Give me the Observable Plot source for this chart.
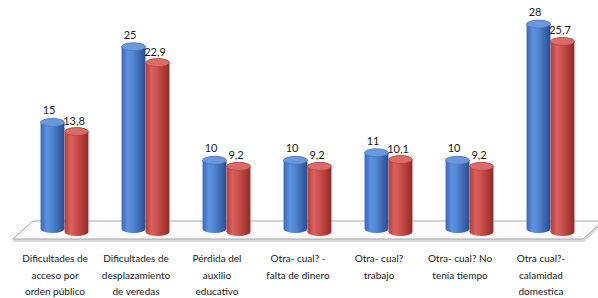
<!DOCTYPE html>
<html><head><meta charset="utf-8">
<script src="https://cdn.jsdelivr.net/npm/d3@7"></script>
<script src="https://cdn.jsdelivr.net/npm/@observablehq/plot@0.6"></script>
<style>body{margin:0;background:#fff}</style>
</head><body><div id="chart"></div>
<script>
const categories = [
  "Dificultades de\nacceso por\norden público",
  "Dificultades de\ndesplazamiento\nde veredas",
  "Pérdida del\nauxilio\neducativo",
  "Otra- cual? -\nfalta de dinero",
  "Otra- cual?\ntrabajo",
  "Otra- cual? No\ntenía tiempo",
  "Otra cual?-\ncalamidad\ndomestica"
];
const serieA = [15, 25, 10, 10, 11, 10, 28];
const serieB = [13.8, 22.9, 9.2, 9.2, 10.1, 9.2, 25.7];

const rows = categories.map((c, i) => ({cat: c, a: serieA[i], b: serieB[i]}));
const fmt = v => String(v).replace(".", ",");

const W = 598, H = 298, ML = 23, MR = 7;
const band = (W - ML - MR) / categories.length;
const bw = 24;
const blueIns = {insetLeft: band / 2 - bw, insetRight: band / 2};
const redIns = {insetLeft: band / 2, insetRight: band / 2 - bw};

function floor(index, scales, values, dims) {
  const ns = "http://www.w3.org/2000/svg";
  const y0 = scales.y(0);
  const back = y0 - 15, front = y0 + 3;
  const L = dims.marginLeft, R = dims.width - dims.marginRight;
  const g = document.createElementNS(ns, "g");
  const sh = document.createElementNS(ns, "path");
  sh.setAttribute("d", `M${L - 10},${front} H${R - 8} L${R + 12},${back} L${R + 13},${back + 2} L${R - 7},${front + 3} H${L - 10} Z`);
  sh.setAttribute("fill", "#d8d8d8");
  g.appendChild(sh);
  const p = document.createElementNS(ns, "path");
  p.setAttribute("d", `M${L + 10},${back} H${R + 12} L${R - 8},${front} H${L - 10} Z`);
  p.setAttribute("fill", "#fbfbfb");
  p.setAttribute("stroke", "#a8a8a8");
  p.setAttribute("stroke-width", "1");
  g.appendChild(p);
  return g;
}

const plot = Plot.plot({
  width: W, height: H,
  marginLeft: ML, marginRight: MR, marginTop: 24, marginBottom: 62,
  x: {domain: categories, padding: 0, axis: null},
  y: {domain: [0, 28], axis: null},
  style: {background: "#fff", fontFamily: "Lato, 'Liberation Sans', sans-serif"},
  marks: [
    floor,
    Plot.barY(rows, {x: "cat", y: "a", fill: "url(#gBlue)", ...blueIns, insetTop: -4, insetBottom: 3, rx: bw / 2, ry: 4}),
    Plot.barY(rows, {x: "cat", y1: "a", y2: "a", fill: "#6b98dc", stroke: "#3f6db5", strokeWidth: 0.6, ...blueIns, insetTop: -4, insetBottom: -4, rx: bw / 2, ry: 4}),
    Plot.barY(rows, {x: "cat", y: "b", fill: "url(#gRed)", ...redIns, insetTop: -4, insetBottom: 0, rx: bw / 2, ry: 4}),
    Plot.barY(rows, {x: "cat", y1: "b", y2: "b", fill: "#dc6b67", stroke: "#a93834", strokeWidth: 0.6, ...redIns, insetTop: -4, insetBottom: -4, rx: bw / 2, ry: 4}),
    Plot.text(rows, {x: "cat", y: "a", text: d => fmt(d.a), dx: -16, dy: -12, fontSize: 11, fill: "#1a1a1a"}),
    Plot.text(rows, {x: "cat", y: "b", text: d => fmt(d.b), dx: 9, dy: -11, fontSize: 11, fill: "#1a1a1a"}),
    Plot.text(rows, {x: "cat", text: "cat", frameAnchor: "bottom", lineAnchor: "top", dy: 14, dx: -10, fontSize: 10, lineHeight: 1.65, fill: "#1a1a1a"})
  ]
});

const defs = d3.select(plot).insert("defs", ":first-child");
function grad(id, stops) {
  const g = defs.append("linearGradient").attr("id", id).attr("x1", 0).attr("x2", 1).attr("y1", 0).attr("y2", 0);
  stops.forEach(([o, c]) => g.append("stop").attr("offset", o).attr("stop-color", c));
}
grad("gBlue", [["0%", "#3766b6"], ["25%", "#5e90dc"], ["45%", "#5489d6"], ["100%", "#264e92"]]);
grad("gRed", [["0%", "#b53b37"], ["25%", "#d9625e"], ["45%", "#d0534f"], ["100%", "#942926"]]);

document.getElementById("chart").appendChild(plot);
</script>
</body></html>
